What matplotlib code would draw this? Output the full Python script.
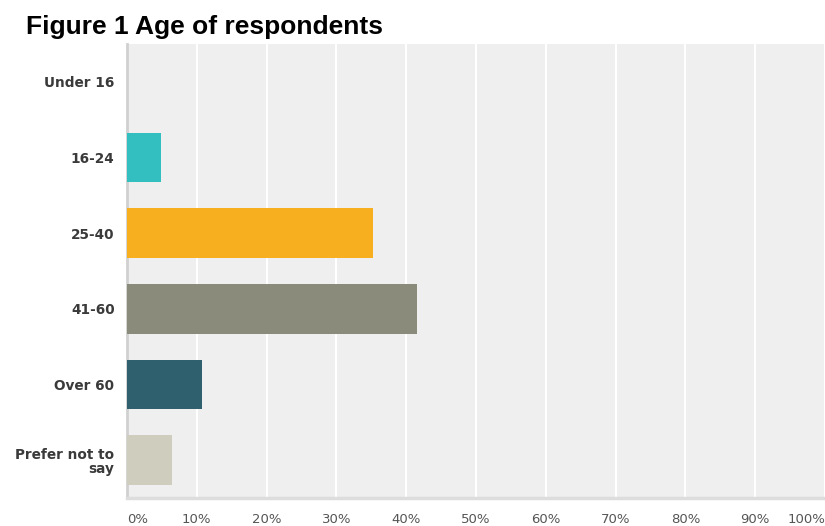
import matplotlib.pyplot as plt

categories = ['Under 16', '16-24', '25-40', '41-60', 'Over 60', 'Prefer not to\nsay']
percent = [0.0, 4.9, 35.3, 41.6, 10.7, 6.5]
colors = ['#33BEC0', '#33BEC0', '#F7AF20', '#8A8B7A', '#2E606E', '#CFCDBE']
xticks = list(range(0, 101, 10))
xlabels = ['{}%'.format(t) for t in xticks]

plt.rcParams['font.family'] = ['DejaVu Sans']

fig = plt.figure(figsize=(8.25, 5.26), dpi=100)
ax = fig.add_axes([127 / 825, 28 / 526, 698 / 825, 454 / 526])

ypos = list(range(len(categories)))
ax.barh(ypos, percent, height=0.66, color=colors, zorder=3)

ax.set_facecolor('#EFEFEF')
ax.set_xlim(0, 100)
ax.set_ylim(len(categories) - 0.5, -0.5)
ax.set_xticks(xticks)
ax.set_xticklabels(xlabels, fontsize=9.5, color='#555555')
ax.set_yticks(ypos)
ax.set_yticklabels(categories, fontsize=9.8, fontweight='bold', color='#3a3a3a',
                   linespacing=1.05)
ax.tick_params(length=0)
ax.tick_params(axis='x', pad=11)
ax.tick_params(axis='y', pad=9)
# keep the end labels inside the figure
tl = ax.get_xticklabels()
tl[0].set_ha('left')
tl[-1].set_ha('right')
ax.xaxis.grid(True, color='white', linewidth=1.5, zorder=1)
ax.set_axisbelow(True)

for side in ['top', 'right']:
    ax.spines[side].set_visible(False)
ax.spines['left'].set_color('#D0D0D0')
ax.spines['left'].set_linewidth(2)
ax.spines['bottom'].set_color('#DDDDDD')
ax.spines['bottom'].set_linewidth(2.5)

fig.text(26 / 825, 1 - 27 / 526, 'Figure 1 Age of respondents', fontsize=19,
         fontweight='bold', va='center', ha='left', family='Liberation Sans')

fig.savefig('out.png', dpi=100)
